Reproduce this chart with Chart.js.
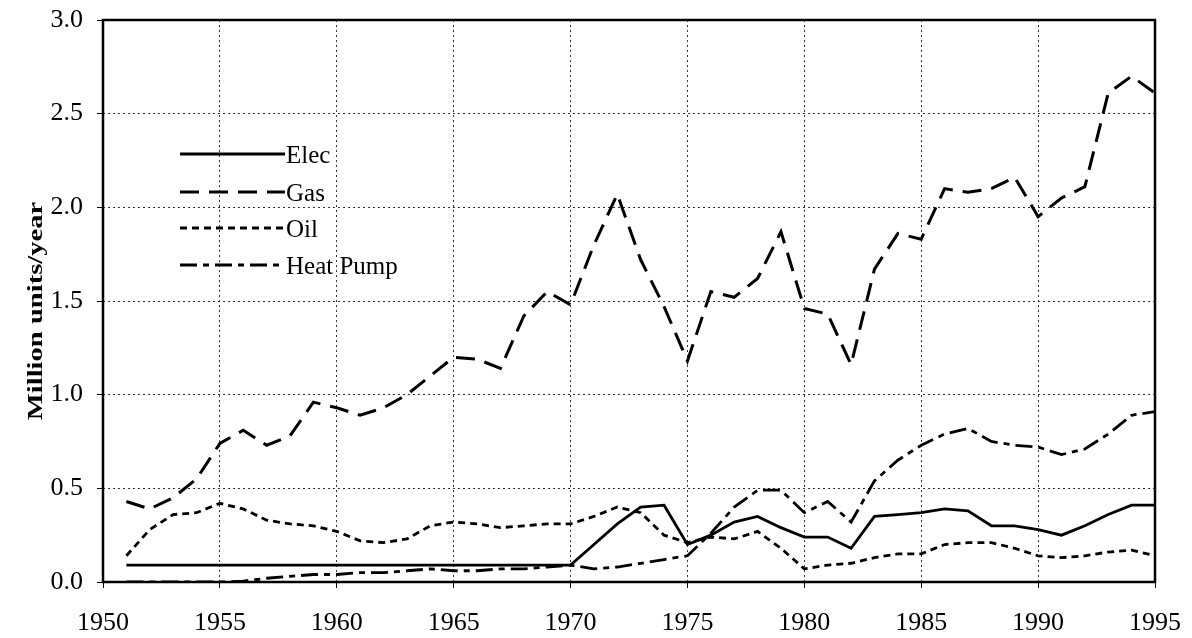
<!DOCTYPE html>
<html><head><meta charset="utf-8">
<script src="https://cdn.jsdelivr.net/npm/chart.js@4.4.1/dist/chart.umd.min.js"></script>
<style>html,body{margin:0;padding:0;background:#fff}#wrap{width:1192px;height:638px}</style>
</head><body><div id="wrap"><canvas id="c" width="1192" height="638"></canvas></div>
<script>
const years = [];
for (let y = 1951; y <= 1995; y++) years.push(y);
const elec = [0.09,0.09,0.09,0.09,0.09,0.09,0.09,0.09,0.09,0.09,
  0.09,0.09,0.09,0.09,0.09,0.09,0.09,0.09,0.09,0.09,
  0.20,0.31,0.40,0.41,0.20,0.25,0.32,0.35,0.29,0.24,
  0.24,0.18,0.35,0.36,0.37,0.39,0.38,0.30,0.30,0.28,
  0.25,0.30,0.36,0.41,0.41];
const gas = [0.43,0.39,0.45,0.55,0.74,0.81,0.73,0.78,0.96,0.93,
  0.89,0.93,1.00,1.10,1.20,1.19,1.14,1.42,1.55,1.48,
  1.80,2.07,1.72,1.47,1.18,1.55,1.52,1.62,1.87,1.46,
  1.43,1.16,1.67,1.86,1.83,2.10,2.08,2.10,2.16,1.95,
  2.05,2.11,2.61,2.70,2.61];
const oil = [0.14,0.28,0.36,0.37,0.42,0.39,0.33,0.31,0.30,0.27,
  0.22,0.21,0.23,0.30,0.32,0.31,0.29,0.30,0.31,0.31,
  0.35,0.40,0.37,0.25,0.21,0.24,0.23,0.27,0.18,0.07,
  0.09,0.10,0.13,0.15,0.15,0.20,0.21,0.21,0.18,0.14,
  0.13,0.14,0.16,0.17,0.14];
const heatPump = [0.00,0.00,0.00,0.00,0.00,0.005,0.02,0.03,0.04,0.04,
  0.05,0.05,0.06,0.07,0.06,0.06,0.07,0.07,0.08,0.09,
  0.07,0.08,0.10,0.12,0.14,0.26,0.40,0.49,0.49,0.37,
  0.43,0.32,0.54,0.65,0.73,0.79,0.82,0.75,0.73,0.72,
  0.68,0.71,0.79,0.89,0.91];
const seriesNames = ['Elec','Gas','Oil','Heat Pump'];
const xTicks = [1950,1955,1960,1965,1970,1975,1980,1985,1990,1995];
const yTicks = [0,0.5,1.0,1.5,2.0,2.5,3.0];
const yTitle = 'Million units/year';

const FONT = '"Liberation Serif","Times New Roman",serif';
const pts = arr => arr.map((v,i)=>({x:years[i],y:v}));
const styles = [
  {w:2.8, dash:[]},
  {w:3, dash:[19,10]},
  {w:2.8, dash:[7,5]},
  {w:2.8, dash:[17,6,6,6]}
];
const datasets = [elec,gas,oil,heatPump].map((d,i)=>({
  label: seriesNames[i], data: pts(d), borderColor:'#000', backgroundColor:'#000',
  borderWidth: styles[i].w, borderDash: styles[i].dash, pointRadius:0, tension:0, fill:false
}));

const framePlugin = {
  id:'frame',
  afterDatasetsDraw(chart){
    const {ctx, chartArea:a} = chart;
    ctx.save();
    ctx.strokeStyle='#000'; ctx.lineWidth=2.5; ctx.setLineDash([]);
    ctx.strokeRect(a.left, a.top, a.right-a.left, a.bottom-a.top);
    // legend
    const rows=[154,192,228,265];
    ctx.font = '25px ' + FONT; ctx.fillStyle='#000'; ctx.textBaseline='middle'; ctx.textAlign='left';
    datasets.forEach((ds,i)=>{
      ctx.lineWidth = ds.borderWidth; ctx.setLineDash(ds.borderDash);
      ctx.beginPath(); ctx.moveTo(180, rows[i]); ctx.lineTo(285, rows[i]); ctx.stroke();
      ctx.setLineDash([]);
      ctx.fillText(ds.label, 286, rows[i]+2);
    });
    ctx.restore();
    // y-axis title
    ctx.save();
    ctx.translate(36, 311);
    ctx.rotate(-Math.PI/2);
    ctx.scale(1.3, 1);
    ctx.font = 'bold 22px ' + FONT; ctx.fillStyle='#000';
    ctx.textAlign='center'; ctx.textBaseline='middle';
    ctx.fillText(yTitle, 0, 0);
    ctx.restore();
  }
};

new Chart(document.getElementById('c'), {
  type:'line',
  data:{datasets},
  plugins:[framePlugin],
  options:{
    responsive:false, animation:false,
    layout:{padding:{top:20,right:37,left:0,bottom:0}},
    plugins:{legend:{display:false}, tooltip:{enabled:false}},
    scales:{
      x:{type:'linear', min:1950, max:1995,
        afterBuildTicks(s){ s.ticks = xTicks.map(v=>({value:v})); },
        afterFit(s){ s.height = 56; s.paddingLeft = 0; s.paddingRight = 0; },
        ticks:{color:'#000', font:{family:FONT,size:26}, padding:20, callback:v=>String(v), maxRotation:0},
        grid:{color:'#333', lineWidth:1, drawTicks:true, tickLength:6, tickColor:'#000', tickBorderDash:[]},
        border:{display:false, dash:[2,3]}
      },
      y:{type:'linear', min:0, max:3,
        afterBuildTicks(s){ s.ticks = yTicks.map(v=>({value:v})); },
        afterFit(s){ s.width = 103; s.paddingTop = 0; s.paddingBottom = 0; },
        ticks:{color:'#000', font:{family:FONT,size:26}, padding:14, callback:v=>v.toFixed(1)},
        grid:{color:'#333', lineWidth:1, drawTicks:true, tickLength:6, tickColor:'#000', tickBorderDash:[]},
        border:{display:false, dash:[2,3]}
      }
    }
  }
});
</script></body></html>
